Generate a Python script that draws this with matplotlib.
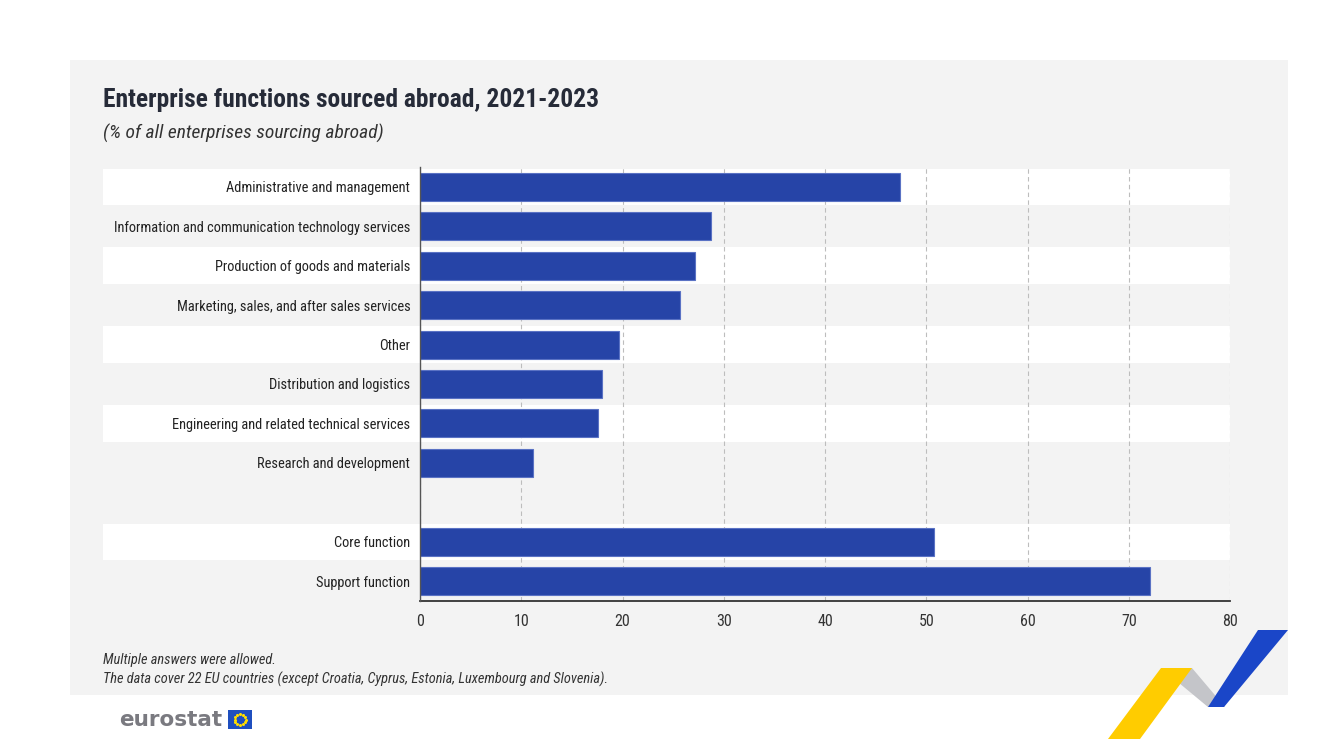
import numpy as np
import matplotlib.pyplot as plt
from matplotlib.patches import Rectangle, Polygon
from matplotlib import transforms, font_manager


### Data #######################################################################
categories = ['Administrative and management',
              'Information and communication technology services',
              'Production of goods and materials',
              'Marketing, sales, and after sales services',
              'Other',
              'Distribution and logistics',
              'Engineering and related technical services',
              'Research and development',
              '',
              'Core function',
              'Support function']
values = [47.4, 28.7, 27.2, 25.7, 19.7, 18.0, 17.6, 11.2, None, 50.8, 72.1]
white_rows = [0, 2, 4, 6, 9]
x_ticks = [0, 10, 20, 30, 40, 50, 60, 70, 80]

title = 'Enterprise functions sourced abroad, 2021-2023'
subtitle = '(% of all enterprises sourcing abroad)'
notes = ['Multiple answers were allowed.',
         'The data cover 22 EU countries (except Croatia, Cyprus, Estonia, Luxembourg and Slovenia).']
################################################################################

W, H = 1334, 739

# pick a narrow font if one is installed, otherwise shrink a normal one
installed = {f.name for f in font_manager.fontManager.ttflist}
narrow_pref = ['Roboto Condensed', 'Liberation Sans Narrow', 'Noto Sans Condensed',
               'Open Sans Condensed', 'DejaVu Sans Condensed']
found = [n for n in narrow_pref if n in installed]
if found:
    base = found[0]
    scale = 1.0
else:
    base = 'Liberation Sans' if 'Liberation Sans' in installed else 'DejaVu Sans'
    scale = 0.8
plt.rcParams['font.family'] = [base, 'DejaVu Sans']

bar_col = '#2644a7'
panel_col = '#f3f3f3'
text_col = '#262b38'


def fx(px):
    return px / W


def fy(py):
    return 1 - py / H


fig = plt.figure(figsize=(W / 100, H / 100), dpi=100)
fig.patch.set_facecolor('white')

# grey panel
bg = fig.add_axes([0, 0, 1, 1], zorder=0)
bg.set_xlim(0, W)
bg.set_ylim(H, 0)
bg.axis('off')
bg.add_patch(Rectangle((70, 60), 1288 - 70, 695 - 60, facecolor=panel_col, edgecolor='none'))

ax = fig.add_axes([fx(420), fy(601), fx(1230) - fx(420), fy(167) - fy(601)], zorder=2)
ax.set_facecolor('none')

ypos = np.arange(len(categories))
ax.set_ylim(len(categories) - 0.5, -0.5)
ax.set_xlim(0, 80)

# alternating row bands, extending to the label area
trans = transforms.blended_transform_factory(fig.transFigure, ax.transData)
for i in white_rows:
    ax.add_patch(Rectangle((fx(103), i - 0.46), fx(1230) - fx(103), 0.92, transform=trans,
                           facecolor='white', edgecolor='none', clip_on=False, zorder=0))

for y, v in zip(ypos, values):
    if v is None:
        continue
    ax.barh(y, v, height=0.71, color=bar_col, edgecolor='#5a72c4', linewidth=0.8, zorder=3)

ax.set_xticks(x_ticks)
ax.set_xticklabels([str(t) for t in x_ticks], fontsize=11.5 * scale, color='#333333')
ax.set_yticks(ypos)
ax.set_yticklabels(categories, fontsize=10.4 * scale, color='#222222')
ax.tick_params(axis='y', length=0, pad=7)
ax.tick_params(axis='x', length=0, pad=9)

ax.grid(axis='x', linestyle=(0, (4, 3)), color='#bdbdbd', linewidth=0.8, zorder=1)
ax.set_axisbelow(True)
for s in ['top', 'right']:
    ax.spines[s].set_visible(False)
ax.spines['left'].set_color('#555555')
ax.spines['left'].set_linewidth(1.0)
ax.spines['bottom'].set_color('#333333')
ax.spines['bottom'].set_linewidth(1.3)
ax.spines['left'].set_zorder(4)

# titles
bg.text(103, 100, title, fontsize=18.4 * scale, fontweight='bold', color=text_col,
        ha='left', va='center')
bg.text(103, 133, subtitle, fontsize=14 * scale, style='italic', color='#333333',
        ha='left', va='center')

# footnotes
bg.text(103, 660, notes[0], fontsize=10.4 * scale, style='italic', color='#333333', ha='left', va='center')
bg.text(103, 679, notes[1], fontsize=10.4 * scale, style='italic', color='#333333', ha='left', va='center')

# eurostat logo
bg.text(119, 720, 'eurostat', fontsize=15.5, fontweight='bold', color='#7a7a80',
        family=['DejaVu Sans'], ha='left', va='center')
bg.add_patch(Rectangle((228, 710), 24, 19, facecolor='#1f4fbf', edgecolor='none'))
ang = np.linspace(0, 2 * np.pi, 12, endpoint=False)
bg.plot(240 + 5.5 * np.cos(ang), 719.5 + 5.5 * np.sin(ang), linestyle='none', marker='o',
        markersize=1.2, color='#ffdd00')

# decorative stripes bottom right
bg.add_patch(Polygon([(1161, 668), (1192, 668), (1225, 707), (1208, 707)],
                     facecolor='#c4c5c9', edgecolor='none'))
bg.add_patch(Polygon([(1161, 668), (1192, 668), (1140, 739), (1108, 739)],
                     facecolor='#ffcc00', edgecolor='none'))
bg.add_patch(Polygon([(1258, 630), (1288, 630), (1224, 707), (1208, 707)],
                     facecolor='#1a46c8', edgecolor='none'))

fig.savefig('out.png', dpi=100)
